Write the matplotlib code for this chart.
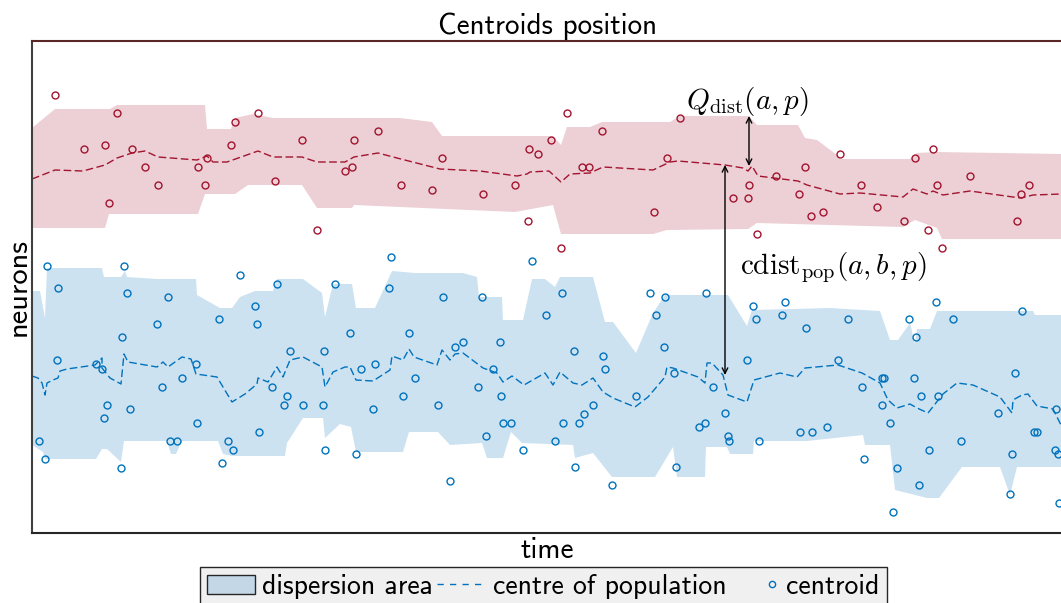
import matplotlib
matplotlib.use("Agg")
from matplotlib import pyplot as plt
from matplotlib.patches import Patch
from matplotlib.lines import Line2D
from matplotlib.legend_handler import HandlerLine2D
import numpy as np

plt.rcParams['font.family'] = ['cmss10', 'DejaVu Sans']
plt.rcParams['mathtext.fontset'] = 'cm'
plt.rcParams['axes.unicode_minus'] = False

red = '#a2142f'
blue = '#0072bd'

# ---- population A (red) ----
a_up_t = [0, 23, 78, 85, 173, 175, 199, 203, 221, 241, 368, 400, 410, 521, 529, 535, 558, 570, 638, 648,
          717, 725, 766, 773, 785, 805, 808, 878, 885, 905, 1030]
a_up_n = [405, 424, 424, 428, 428, 404, 404, 415, 419, 415, 415, 411, 397, 397, 388, 406, 406, 411, 411, 417,
          417, 408, 408, 395, 393, 378, 374, 374, 380, 381, 379]
a_lo_t = [0, 73, 77, 166, 173, 203, 216, 270, 285, 320, 322, 483, 521, 529, 621, 635, 716, 725, 871, 883,
          905, 910, 1030]
a_lo_n = [305, 305, 319, 319, 339, 339, 348, 348, 325, 325, 328, 321, 328, 299, 299, 303, 304, 310, 306, 313,
          305, 294, 294]
a_ctr_t = [0, 23, 51, 73, 85, 100, 113, 126, 165, 175, 181, 195, 226, 241, 270, 285, 313, 322, 346, 365,
           408, 448, 485, 495, 498, 517, 529, 538, 558, 571, 621, 638, 646, 693, 711, 716, 720, 726, 766, 775,
           808, 828, 871, 881, 895, 901, 911, 938, 981, 989, 1001, 1030]
a_ctr_n = [354, 363, 362, 368, 375, 380, 382, 376, 373, 377, 371, 371, 382, 376, 376, 371, 371, 376, 380, 375,
           364, 362, 357, 359, 361, 362, 351, 359, 360, 366, 363, 371, 372, 368, 365, 362, 367, 357, 352, 348,
           339, 340, 336, 344, 339, 342, 338, 342, 336, 335, 338, 339]
a_pts_t = [23, 85, 52, 73, 100, 113, 126, 77, 166, 175, 173, 203, 226, 199, 243, 270, 285, 313, 320, 322,
           346, 369, 400, 410, 451, 483, 497, 506, 519, 535, 496, 529, 550, 557, 570, 622, 635, 648, 717, 701,
           716, 725, 744, 773, 767, 779, 791, 808, 829, 845, 872, 883, 901, 905, 896, 910, 938, 985, 989, 997]
a_pts_n = [438, 420, 384, 388, 384, 366, 348, 330, 366, 375, 348, 411, 420, 388, 352, 393, 303, 362, 366, 393,
           402, 348, 343, 375, 339, 348, 384, 379, 393, 420, 312, 285, 366, 366, 402, 321, 375, 415, 348, 335,
           335, 299, 357, 366, 339, 317, 321, 379, 348, 326, 312, 375, 384, 348, 303, 285, 357, 312, 339, 348]

# ---- population B (blue) ----
b_up_t = [0, 8, 13, 15, 70, 72, 89, 93, 95, 125, 164, 165, 188, 200, 208, 223, 241, 245, 271, 290,
          293, 301, 320, 324, 343, 360, 383, 431, 445, 447, 470, 471, 491, 500, 513, 523, 528, 561, 573, 581,
          604, 621, 633, 696, 715, 720, 798, 848, 858, 866, 878, 883, 885, 898, 905, 1001, 1003, 1030]
b_up_n = [242, 242, 215, 265, 265, 256, 256, 262, 256, 254, 254, 238, 225, 225, 236, 242, 242, 254, 254, 240,
          216, 249, 249, 225, 225, 262, 260, 260, 256, 236, 236, 213, 213, 254, 254, 246, 256, 256, 211, 211,
          180, 220, 238, 238, 207, 223, 225, 222, 193, 193, 210, 189, 204, 204, 222, 222, 218, 218]
b_lo_t = [0, 11, 13, 64, 70, 75, 89, 92, 135, 139, 144, 150, 186, 191, 200, 253, 255, 271, 291, 293,
          308, 319, 324, 371, 377, 406, 418, 450, 455, 471, 479, 490, 541, 543, 561, 580, 623, 641, 645, 673,
          674, 695, 698, 721, 722, 775, 831, 833, 858, 863, 895, 907, 930, 968, 978, 985, 1030]
b_lo_n = [88, 81, 74, 74, 84, 84, 71, 92, 92, 79, 79, 92, 92, 79, 77, 77, 90, 115, 115, 95,
          109, 106, 81, 81, 101, 101, 88, 90, 75, 75, 101, 90, 88, 75, 80, 56, 56, 86, 56, 56,
          86, 86, 79, 79, 92, 92, 98, 88, 88, 43, 35, 35, 66, 66, 38, 66, 66]
b_ctr_t = [0, 6, 10, 13, 15, 21, 26, 28, 35, 63, 70, 70, 78, 89, 92, 96, 125, 131, 136, 150,
           159, 164, 185, 200, 213, 225, 226, 236, 245, 251, 258, 271, 290, 293, 301, 313, 318, 324, 341, 358,
           360, 371, 377, 382, 405, 410, 418, 423, 431, 451, 465, 471, 480, 492, 513, 521, 528, 541, 550, 561,
           571, 581, 603, 616, 633, 635, 641, 666, 673, 675, 680, 691, 696, 715, 722, 748, 765, 773, 806, 830,
           848, 856, 865, 878, 885, 896, 911, 925, 941, 968, 980, 981, 990, 996, 1005, 1021, 1030]
b_ctr_n = [157, 155, 150, 138, 150, 153, 155, 162, 164, 168, 175, 165, 155, 149, 179, 171, 166, 171, 166, 176,
           174, 159, 156, 131, 139, 149, 155, 151, 166, 156, 173, 176, 166, 146, 161, 166, 166, 153, 152, 163,
           177, 173, 184, 176, 168, 183, 173, 179, 180, 165, 160, 151, 157, 148, 160, 148, 161, 150, 148, 155,
           141, 135, 126, 136, 156, 166, 165, 156, 150, 170, 170, 158, 138, 131, 153, 160, 156, 165, 168, 160,
           150, 133, 125, 129, 125, 120, 139, 150, 148, 136, 120, 133, 138, 139, 127, 124, 106]
b_pts_t = [15, 92, 26, 95, 136, 208, 245, 303, 125, 187, 223, 225, 90, 318, 25, 64, 70, 164, 258, 292,
           130, 150, 240, 255, 75, 98, 72, 165, 252, 271, 291, 227, 7, 138, 145, 196, 13, 201, 89, 190,
           293, 324, 359, 500, 357, 411, 450, 530, 618, 633, 514, 624, 377, 431, 423, 468, 632, 542, 571, 329,
           343, 461, 573, 642, 383, 446, 371, 469, 604, 341, 406, 561, 552, 471, 479, 531, 547, 667, 454, 523,
           491, 543, 644, 418, 580, 674, 721, 724, 753, 750, 774, 816, 877, 884, 904, 921, 990, 715, 806, 882,
           983, 850, 852, 681, 830, 889, 906, 693, 850, 966, 1024, 673, 696, 697, 727, 768, 780, 795, 858, 929,
           1002, 1005, 832, 865, 897, 980, 1023, 1026, 887, 978, 861, 1027]
b_pts_n = [267, 267, 245, 240, 236, 258, 249, 249, 209, 214, 227, 209, 196, 200, 173, 169, 164, 169, 182, 182,
           146, 155, 146, 137, 128, 124, 115, 110, 128, 128, 128, 101, 92, 92, 92, 92, 74, 83, 65, 70,
           83, 79, 276, 272, 245, 236, 236, 240, 240, 236, 218, 218, 200, 191, 186, 191, 186, 182, 177, 164,
           169, 164, 164, 160, 155, 146, 137, 137, 137, 124, 128, 128, 119, 110, 110, 110, 110, 106, 97, 92,
           83, 66, 66, 52, 48, 240, 227, 214, 231, 218, 205, 214, 214, 196, 231, 214, 222, 173, 173, 155,
           160, 155, 155, 146, 146, 137, 137, 120, 128, 120, 124, 110, 97, 92, 92, 101, 101, 106, 110, 92,
           101, 101, 74, 65, 83, 79, 83, 79, 48, 39, 21, 30]


class MarkerAtRight(HandlerLine2D):
    # put the legend marker close to its label
    def create_artists(self, legend, orig_handle, xdescent, ydescent, width, height, fontsize, trans):
        return super().create_artists(legend, orig_handle, xdescent - width / 2 + 5, ydescent,
                                      width, height, fontsize, trans)


fig = plt.figure(figsize=(10.61, 6.03), dpi=100)
ax = fig.add_axes([32 / 1061, 70 / 603, 1031 / 1061, 492 / 603])

ax.fill(np.r_[a_up_t, a_lo_t[::-1]], np.r_[a_up_n, a_lo_n[::-1]], color=red, alpha=0.2, lw=0)
ax.fill(np.r_[b_up_t, b_lo_t[::-1]], np.r_[b_up_n, b_lo_n[::-1]], color=blue, alpha=0.2, lw=0)
ax.plot(a_ctr_t, a_ctr_n, color=red, lw=1.0, dashes=(5.5, 2.5))
ax.plot(b_ctr_t, b_ctr_n, color=blue, lw=1.0, dashes=(5.5, 2.5))
ax.plot(a_pts_t, a_pts_n, 'o', ls='none', mfc='none', mec=red, ms=5, mew=1.0)
ax.plot(b_pts_t, b_pts_n, 'o', ls='none', mfc='none', mec=blue, ms=5, mew=1.0)

# distance annotations
ax.annotate('', xy=(717, 417), xytext=(717, 367),
            arrowprops=dict(arrowstyle='<->', color='black', lw=1.0, shrinkA=0, shrinkB=0))
ax.annotate('', xy=(693, 368), xytext=(693, 158),
            arrowprops=dict(arrowstyle='<->', color='black', lw=1.0, shrinkA=0, shrinkB=0))
ax.text(654, 431, r'$Q_{\mathrm{dist}}(a,p)$', fontsize=21, va='center', ha='left')
ax.text(708, 265, r'$\mathrm{cdist}_{\mathrm{pop}}(a,b,p)$', fontsize=21, va='center', ha='left')

ax.set_xlim(0, 1031)
ax.set_ylim(0, 492)
ax.set_xticks([])
ax.set_yticks([])
for s in ax.spines.values():
    s.set_linewidth(1.5)
ax.spines['top'].set_color('#5a2626')
ax.spines['left'].set_color('#404040')
ax.spines['bottom'].set_color('#262626')
ax.spines['right'].set_visible(False)

ax.set_title('Centroids position', fontsize=21, pad=5)
ax.set_xlabel('time', fontsize=21, labelpad=3)
ax.set_ylabel('neurons', fontsize=22, labelpad=0)

h_line = Line2D([], [], color=blue, lw=1.0, dashes=(4.5, 4.5))
h_mark = Line2D([], [], marker='o', ls='none', mfc='none', mec=blue, ms=4.5, mew=1.0)
handles = [Patch(facecolor='#c3d7e7', edgecolor='#262626', lw=1.0), h_line, h_mark]
labels = ['dispersion area', 'centre of population', 'centroid']
leg = fig.legend(handles, labels, loc='upper center', bbox_to_anchor=(0.512, 0.0597), ncol=3,
                 fontsize=20, frameon=True, fancybox=False, handlelength=1.75, handletextpad=0.25,
                 columnspacing=0.15, borderpad=0.25, borderaxespad=0,
                 handler_map={h_mark: MarkerAtRight()})
leg.get_frame().set_facecolor('#f0f0f0')
leg.get_frame().set_edgecolor('#262626')
leg.get_frame().set_alpha(1)

fig.savefig('out.png', dpi=100)
